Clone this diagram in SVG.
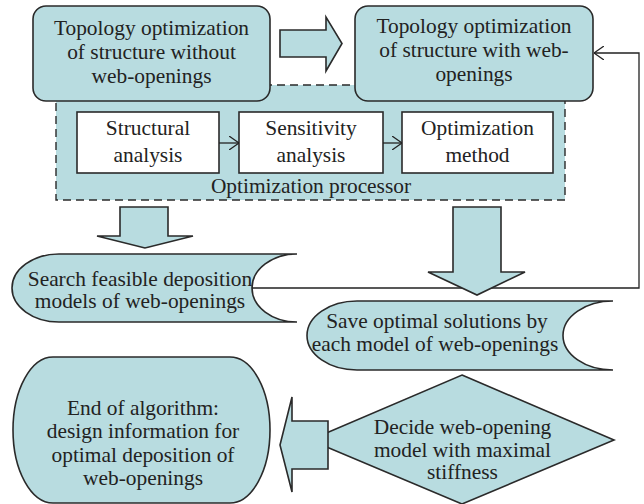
<svg xmlns="http://www.w3.org/2000/svg" width="644" height="504" viewBox="0 0 644 504">
  <defs>
    <style>
      .shape { fill: #b8dce0; stroke: #2a2a2a; stroke-width: 1.6; }
      .plain { fill: #ffffff; stroke: #2a2a2a; stroke-width: 1.6; }
      .group { fill: #b8dce0; stroke: #2a2a2a; stroke-width: 1.4; stroke-dasharray: 8 5; }
      .link { fill: none; stroke: #222222; stroke-width: 1.3; }
      text { font-family: "Liberation Serif", "DejaVu Serif", serif; font-size: 21.4px; fill: #222222; text-anchor: middle; }
    </style>
    <marker id="open-arrow" viewBox="0 0 10 14" refX="10" refY="7" markerWidth="10" markerHeight="14" markerUnits="userSpaceOnUse" orient="auto">
      <path d="M0,0 L10,7 L0,14" fill="none" stroke="#222222" stroke-width="1.3"/>
    </marker>
  </defs>

  <!-- optimization processor frame (drawn first so the top boxes sit over it) -->
  <g id="processor">
    <rect class="group" x="56" y="85" width="509" height="115"/>
    <text x="311" y="193">Optimization processor</text>
  </g>

  <g id="topo-without">
    <rect class="shape" x="33" y="6" width="237" height="95" rx="13"/>
    <text x="151.5" y="35">Topology optimization</text>
    <text x="151.5" y="59">of structure without</text>
    <text x="151.5" y="83">web-openings</text>
  </g>

  <g id="topo-with">
    <rect class="shape" x="355" y="6" width="238" height="95" rx="13"/>
    <text x="474" y="33">Topology optimization</text>
    <text x="474" y="57">of structure with web-</text>
    <text x="474" y="81">openings</text>
  </g>

  <g id="structural">
    <rect class="plain" x="77" y="112" width="142" height="61"/>
    <text x="148" y="135">Structural</text>
    <text x="148" y="162">analysis</text>
  </g>

  <g id="sensitivity">
    <rect class="plain" x="239" y="112" width="144" height="61"/>
    <text x="311" y="135">Sensitivity</text>
    <text x="311" y="162">analysis</text>
  </g>

  <g id="method">
    <rect class="plain" x="402" y="112" width="151" height="61"/>
    <text x="477.5" y="135">Optimization</text>
    <text x="477.5" y="162">method</text>
  </g>

  <g id="search">
    <path class="shape" d="M59,254 L297,254 A45,34 0 0 0 297,322 L59,322 A47,34 0 0 1 59,254 Z"/>
    <text x="140" y="286">Search feasible deposition</text>
    <text x="140" y="308">models of web-openings</text>
  </g>

  <g id="save">
    <path class="shape" d="M357,301 L613,301 A50,34.5 0 0 0 613,370 L357,370 A50,34.5 0 0 1 357,301 Z"/>
    <text x="437" y="328">Save optimal solutions by</text>
    <text x="435" y="351">each model of web-openings</text>
  </g>

  <g id="end">
    <rect class="shape" x="13" y="357" width="257" height="146" rx="40" ry="73"/>
    <text x="143" y="415">End of algorithm:</text>
    <text x="143" y="438">design information for</text>
    <text x="143" y="462">optimal deposition of</text>
    <text x="143" y="485">web-openings</text>
  </g>

  <g id="decide">
    <polygon class="shape" points="462,375 614,440 462,504 310,440"/>
    <text x="462.5" y="434">Decide web-opening</text>
    <text x="462.5" y="457">model with maximal</text>
    <text x="462.5" y="479">stiffness</text>
  </g>

  <g id="connectors">
    <line class="link" x1="219" y1="143" x2="239" y2="143" marker-end="url(#open-arrow)"/>
    <line class="link" x1="383" y1="143" x2="402" y2="143" marker-end="url(#open-arrow)"/>
    <polyline class="link" points="252,288 639,288 639,53 594,53" marker-end="url(#open-arrow)"/>
    <!-- block arrows -->
    <polygon class="shape" points="280,30 326,30 326,17 342,43.5 326,71 326,57 280,57"/>
    <polygon class="shape" points="120,207 168,207 168,236 193,236 145,248 97,236 120,236"/>
    <polygon class="shape" points="453,207 501,207 501,272 525,272 477,295 428,272 453,272"/>
    <polygon class="shape" points="280,445 292,397 292,421 328,421 328,469 292,469 292,492"/>
  </g>
</svg>
